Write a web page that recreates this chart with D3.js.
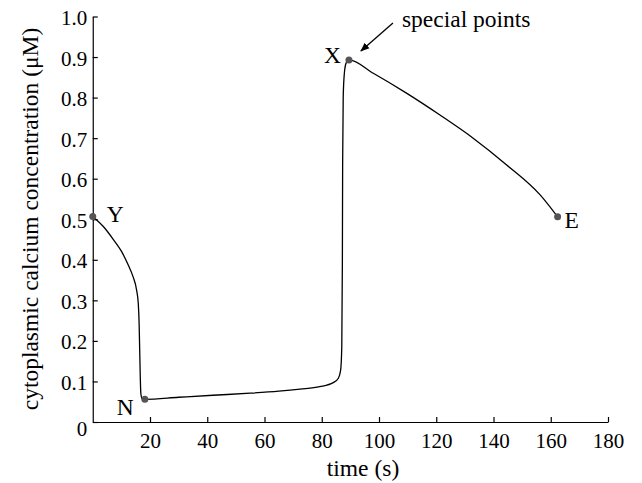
<!DOCTYPE html>
<html>
<head>
<meta charset="utf-8">
<script src="https://cdn.jsdelivr.net/npm/d3@7"></script>
<style>
  body { margin: 0; background: #fff; }
  svg { display: block; }
  svg text { font-family: "Liberation Serif", "Times New Roman", serif !important; fill: #000; }
</style>
</head>
<body>
<svg id="chart" width="642" height="483"></svg>
<script>
// ---- data ----
const time = [0, 3.7, 7.2, 10.1, 12.4, 14.1, 15.3, 15.9, 16.2, 16.4, 16.6, 16.8, 17.2, 18.2,
  30, 42, 55, 65, 72.4, 79.3, 84.0, 85.8, 86.6, 87.0, 87.2, 87.3, 87.5, 87.9, 88.5, 89.5,
  98.0, 109.6, 121.3, 132.9, 144.6, 156.3, 162.4];
const calcium = [0.507, 0.482, 0.450, 0.420, 0.387, 0.358, 0.326, 0.293, 0.243, 0.178, 0.112, 0.071, 0.058, 0.056,
  0.061, 0.066, 0.071, 0.076, 0.081, 0.087, 0.097, 0.108, 0.128, 0.186, 0.391, 0.638, 0.802, 0.860, 0.885, 0.893,
  0.860, 0.811, 0.757, 0.700, 0.634, 0.560, 0.506];
const specialLabels = ["Y", "N", "X", "E"];
const specialTime = [0, 18.2, 89.5, 162.4];
const specialValue = [0.507, 0.056, 0.893, 0.506];
const xTicks = [20, 40, 60, 80, 100, 120, 140, 160, 180];
const yTicks = [0, 0.1, 0.2, 0.3, 0.4, 0.5, 0.6, 0.7, 0.8, 0.9, 1.0];
const yTickLabels = ["0", "0.1", "0.2", "0.3", "0.4", "0.5", "0.6", "0.7", "0.8", "0.9", "1.0"];

// ---- layout ----
const FONT = '"Liberation Serif", "Times New Roman", serif';
const svg = d3.select("#chart");
const x = d3.scaleLinear().domain([0, 180]).range([92.75, 608]);
const y = d3.scaleLinear().domain([0, 1]).range([422, 16.5]);

// x axis (ticks pointing inward)
const gx = svg.append("g").attr("transform", `translate(0,${y(0)})`)
  .call(d3.axisBottom(x).tickValues(xTicks).tickSizeInner(-5).tickSizeOuter(0).tickPadding(0).tickFormat(d3.format("d")));
gx.attr("font-family", FONT);
gx.select(".domain").attr("stroke", "#000").attr("stroke-width", 1.2);
gx.selectAll(".tick line").attr("stroke", "#000").attr("stroke-width", 1.2);
gx.selectAll(".tick text").attr("y", 26).attr("dy", 0)
  .style("font-family", FONT).style("font-size", "21px");

// y axis
const gy = svg.append("g").attr("transform", `translate(${x(0)},0)`)
  .call(d3.axisLeft(y).tickValues(yTicks).tickSizeInner(-5).tickSizeOuter(0).tickPadding(0)
    .tickFormat((d, i) => yTickLabels[i]));
gy.attr("font-family", FONT);
gy.select(".domain").attr("stroke", "#000").attr("stroke-width", 1.2);
gy.selectAll(".tick line").attr("stroke", "#000").attr("stroke-width", 1.2);
gy.selectAll(".tick text").attr("x", -5.5).attr("dy", "0.38em")
  .style("font-family", FONT).style("font-size", "21px")
  .filter(d => d === 0).attr("dy", "0.62em");

// axis titles
svg.append("text").attr("x", 363).attr("y", 476).attr("text-anchor", "middle")
  .style("font-family", FONT).style("font-size", "23.5px").text("time (s)");
svg.append("text").attr("transform", "translate(38,219) rotate(-90)").attr("text-anchor", "middle")
  .style("font-family", FONT).style("font-size", "23.5px").text("cytoplasmic calcium concentration (μM)");

// curve
const line = d3.line().x((d, i) => x(time[i])).y((d, i) => y(calcium[i])).curve(d3.curveMonotoneX);
svg.append("path").datum(calcium).attr("d", line)
  .attr("fill", "none").attr("stroke", "#000").attr("stroke-width", 1.3);

// special points
const offsets = { Y: [14, 5.5, "start"], N: [-11, 16, "end"], X: [-8, 3.5, "end"], E: [7, 11, "start"] };
const pts = specialLabels.map((l, i) => ({ l, t: specialTime[i], v: specialValue[i] }));
svg.selectAll("circle.sp").data(pts).enter().append("circle").attr("class", "sp")
  .attr("cx", d => x(d.t)).attr("cy", d => y(d.v)).attr("r", 3.5).attr("fill", "#555");
svg.selectAll("text.sl").data(pts).enter().append("text").attr("class", "sl")
  .attr("x", d => x(d.t) + offsets[d.l][0]).attr("y", d => y(d.v) + offsets[d.l][1])
  .attr("text-anchor", d => offsets[d.l][2])
  .style("font-family", FONT).style("font-size", "23.5px").text(d => d.l);

// annotation
svg.append("defs").append("marker").attr("id", "ah").attr("viewBox", "0 0 10 10")
  .attr("refX", 9).attr("refY", 5).attr("markerWidth", 9).attr("markerHeight", 9)
  .attr("markerUnits", "userSpaceOnUse").attr("orient", "auto")
  .append("path").attr("d", "M0,1 L10,5 L0,9 Z").attr("fill", "#000");
const xp = pts[2];
svg.append("line").attr("x1", x(xp.t) + 44).attr("y1", y(xp.v) - 37)
  .attr("x2", x(xp.t) + 12).attr("y2", y(xp.v) - 9)
  .attr("stroke", "#000").attr("stroke-width", 1.3).attr("marker-end", "url(#ah)");
svg.append("text").attr("x", x(xp.t) + 53).attr("y", 27)
  .style("font-family", FONT).style("font-size", "23.5px").text("special points");
</script>
</body>
</html>
